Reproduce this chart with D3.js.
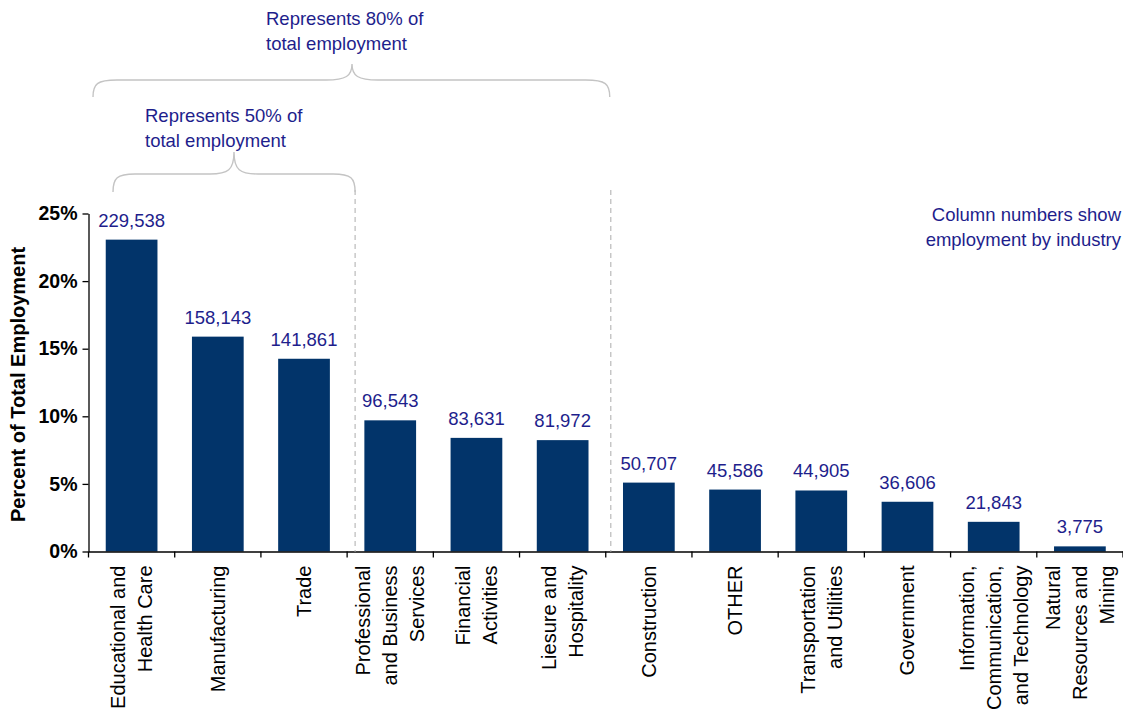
<!DOCTYPE html>
<html>
<head>
<meta charset="utf-8">
<script src="https://cdn.jsdelivr.net/npm/d3@7/dist/d3.min.js"></script>
<style>
  html, body { margin: 0; padding: 0; background: #fff; }
  svg { display: block; font-family: "Liberation Sans", Arial, sans-serif; }
</style>
</head>
<body>
<svg id="chart" width="1123" height="712"></svg>
<script>
// Industries, in descending order of employment
const categories = [
  "Educational and\nHealth Care",
  "Manufacturing",
  "Trade",
  "Professional\nand Business\nServices",
  "Financial\nActivities",
  "Liesure and\nHospitality",
  "Construction",
  "OTHER",
  "Transportation\nand Utilities",
  "Government",
  "Information,\nCommunication,\nand Technology",
  "Natural\nResources and\nMining"
];

// Employment by industry (shown above each column)
const employment = [229538, 158143, 141861, 96543, 83631, 81972, 50707, 45586, 44905, 36606, 21843, 3775];

// Percent-axis ticks
const yTicks = [0, 5, 10, 15, 20, 25];

const yAxisTitle = "Percent of Total Employment";
const noteLines = ["Column numbers show", "employment by industry"];
const brace80Lines = ["Represents 80% of", "total employment"];
const brace50Lines = ["Represents 50% of", "total employment"];

const total = d3.sum(employment);
const share = employment.map(v => v / total * 100);

const barColor = "#02346a";
const labelBlue = "#1e1e8c";
const guideGray = "#c4c4c4";
const blueSize = 18.5;

const svg = d3.select("#chart");

const x = d3.scaleBand()
  .domain(categories)
  .range([88.5, 1123])
  .paddingInner(0.4)
  .paddingOuter(0.2);

const y = d3.scaleLinear()
  .domain([0, 25])
  .range([551.5, 213.5]);

// Bars
svg.append("g").selectAll("rect")
  .data(categories)
  .join("rect")
  .attr("x", d => x(d))
  .attr("width", x.bandwidth())
  .attr("y", (d, i) => y(share[i]))
  .attr("height", (d, i) => y(0) - y(share[i]))
  .attr("fill", barColor);

// Value labels
svg.append("g").selectAll("text")
  .data(categories)
  .join("text")
  .attr("x", d => x(d) + x.bandwidth() / 2)
  .attr("y", (d, i) => y(share[i]) - 13)
  .attr("text-anchor", "middle")
  .attr("font-size", blueSize)
  .attr("fill", labelBlue)
  .text((d, i) => d3.format(",")(employment[i]));

// Y axis
const yAxis = svg.append("g")
  .attr("transform", `translate(${x.range()[0]},0)`)
  .call(d3.axisLeft(y).tickValues(yTicks).tickFormat(d => d + "%").tickSize(6).tickPadding(5).tickSizeOuter(0));
yAxis.selectAll("text")
  .attr("font-size", 19.5)
  .attr("font-weight", "bold")
  .attr("fill", "#000")
  .attr("font-family", "Liberation Sans, Arial, sans-serif");
yAxis.selectAll("line, path").attr("stroke", "#000").attr("stroke-width", 1.3);

// X axis baseline and category boundary ticks
const xAxis = svg.append("g")
  .attr("transform", `translate(0,${y(0)})`)
  .call(d3.axisBottom(x).tickSize(0).tickSizeOuter(0).tickFormat(""));
xAxis.select("path").attr("stroke", "#000").attr("stroke-width", 1.3);

const boundaries = d3.range(categories.length + 1).map(i => x.range()[0] + i * x.step());
svg.append("g").selectAll("line")
  .data(boundaries)
  .join("line")
  .attr("x1", d => d).attr("x2", d => d)
  .attr("y1", y(0)).attr("y2", y(0) + 6)
  .attr("stroke", "#000")
  .attr("stroke-width", 1.3);

// Category labels, rotated, multi-line
const lineH = 27;
const catLabels = svg.append("g").selectAll("text")
  .data(categories)
  .join("text")
  .attr("transform", d => `translate(${x(d) + x.bandwidth() / 2},${y(0) + 14}) rotate(-90)`)
  .attr("text-anchor", "end")
  .attr("font-size", 20)
  .attr("fill", "#000");
catLabels.each(function(d) {
  const lines = d.split("\n");
  const t = d3.select(this);
  lines.forEach((ln, j) => {
    t.append("tspan")
      .attr("x", 0)
      .attr("y", (j - (lines.length - 1) / 2) * lineH)
      .attr("dy", "0.35em")
      .text(ln);
  });
});

// Y axis title
svg.append("text")
  .attr("transform", `translate(25,${(y(0) + y(25)) / 2 + 2}) rotate(-90)`)
  .attr("text-anchor", "middle")
  .attr("font-size", 20)
  .attr("font-weight", "bold")
  .attr("fill", "#000")
  .text(yAxisTitle);

// Note, top right
svg.append("g").selectAll("text")
  .data(noteLines)
  .join("text")
  .attr("x", 1121)
  .attr("y", (d, i) => 221 + i * 25)
  .attr("text-anchor", "end")
  .attr("font-size", blueSize)
  .attr("fill", labelBlue)
  .text(d => d);

// Curly brace helper
function bracePath(x0, x1, yEnd, yH, xm, yTip, rEnd, rTip) {
  return `M${x0},${yEnd}` +
    ` C${x0},${yH + 4} ${x0 + 4},${yH} ${x0 + rEnd},${yH}` +
    ` L${xm - rTip},${yH}` +
    ` C${xm - 6},${yH} ${xm},${yH - 4} ${xm},${yTip}` +
    ` C${xm},${yH - 4} ${xm + 6},${yH} ${xm + rTip},${yH}` +
    ` L${x1 - rEnd},${yH}` +
    ` C${x1 - 4},${yH} ${x1},${yH + 4} ${x1},${yEnd}`;
}

// Group dividers: after the top three and top six industries
const div50 = boundaries[3] + 8;
const div80 = boundaries[6] + 5;

svg.append("g").selectAll("line")
  .data([div50, div80])
  .join("line")
  .attr("x1", d => d).attr("x2", d => d)
  .attr("y1", 190).attr("y2", y(0))
  .attr("stroke", guideGray)
  .attr("stroke-width", 1.4)
  .attr("stroke-dasharray", "5,4");

// 80% brace
svg.append("path")
  .attr("d", bracePath(93, div80 - 1, 97, 80, 352, 64, 24, 26))
  .attr("fill", "none")
  .attr("stroke", guideGray)
  .attr("stroke-width", 1.4);

// 50% brace
svg.append("path")
  .attr("d", bracePath(113, div50, 192, 174, 234, 152, 22, 24))
  .attr("fill", "none")
  .attr("stroke", guideGray)
  .attr("stroke-width", 1.4);

svg.append("g").selectAll("text")
  .data(brace80Lines)
  .join("text")
  .attr("x", 266)
  .attr("y", (d, i) => 25 + i * 25)
  .attr("font-size", blueSize)
  .attr("fill", labelBlue)
  .text(d => d);

svg.append("g").selectAll("text")
  .data(brace50Lines)
  .join("text")
  .attr("x", 145)
  .attr("y", (d, i) => 122 + i * 25)
  .attr("font-size", blueSize)
  .attr("fill", labelBlue)
  .text(d => d);
</script>
</body>
</html>
